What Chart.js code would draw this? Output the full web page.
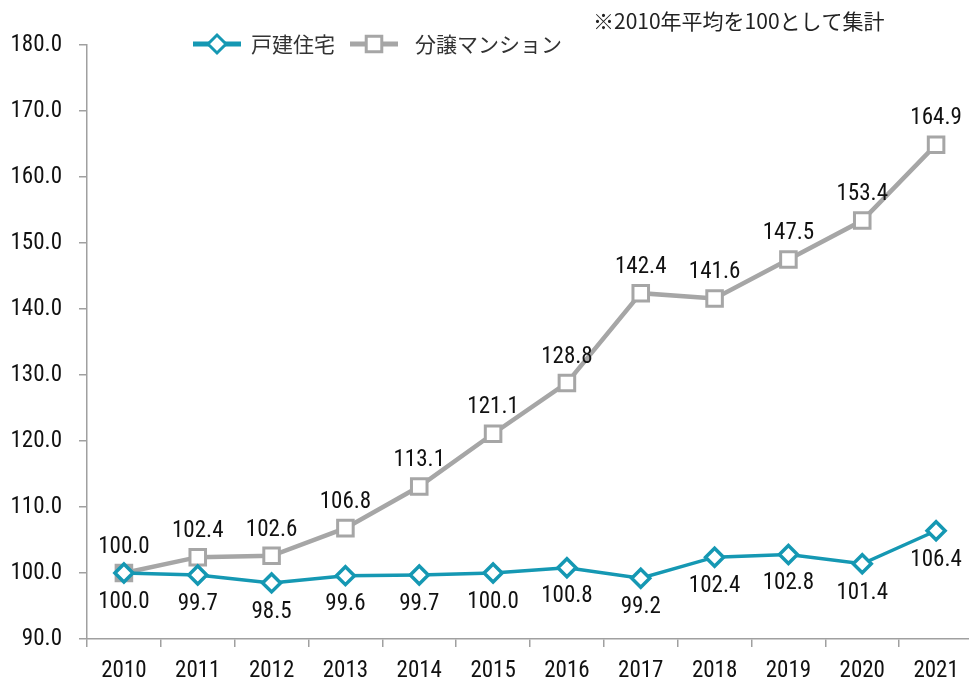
<!DOCTYPE html>
<html>
<head>
<meta charset="utf-8">
<script src="https://cdn.jsdelivr.net/npm/chart.js@4"></script>
<style>
  html, body { margin: 0; padding: 0; background: #fff; overflow: hidden; }
  #chart { display: block; }
</style>
</head>
<body>
<canvas id="chart" width="974" height="685"></canvas>
<script>
// chart values (index, 2010 average = 100)
const years = ["2010", "2011", "2012", "2013", "2014", "2015", "2016", "2017", "2018", "2019", "2020", "2021"];
const detachedHouse = [100.0, 99.7, 98.5, 99.6, 99.7, 100.0, 100.8, 99.2, 102.4, 102.8, 101.4, 106.4];
const condominium = [100.0, 102.4, 102.6, 106.8, 113.1, 121.1, 128.8, 142.4, 141.6, 147.5, 153.4, 164.9];
const seriesNames = ["戸建住宅", "分譲マンション"];
const noteText = "※2010年平均を100として集計";

const BLUE = "#1598b3";
const GRAY = "#a6a6a6";
const NUM_FONT = "'Roboto Condensed', 'DejaVu Sans Condensed', sans-serif";
const JP_FONT = "'Noto Sans CJK JP', sans-serif";

// value labels: gray above its points, blue below
const valueLabels = {
  id: "valueLabels",
  afterDatasetsDraw(chart) {
    const ctx = chart.ctx;
    ctx.save();
    ctx.font = "23px " + NUM_FONT;
    ctx.fillStyle = "#111";
    ctx.textAlign = "center";
    ctx.textBaseline = "middle";
    chart.data.datasets.forEach((ds, i) => {
      const meta = chart.getDatasetMeta(i);
      const below = ds.labelSide === "below";
      meta.data.forEach((pt, j) => {
        const y = below ? pt.y + 29 : pt.y - 26;
        ctx.fillText(ds.data[j].toFixed(1), pt.x, y);
      });
    });
    ctx.restore();
  },
};

// legend with line + marker, and the note at top right
const topTexts = {
  id: "topTexts",
  afterDraw(chart) {
    const ctx = chart.ctx;
    ctx.save();
    const y = 44;
    const items = [
      { x: 193, color: BLUE, style: "rectRot", r: 9, text: seriesNames[0], tx: 251 },
      { x: 350, color: GRAY, style: "rect", r: 11, text: seriesNames[1], tx: 415 },
    ];
    items.forEach((it) => {
      ctx.strokeStyle = it.color;
      ctx.lineWidth = 5;
      ctx.beginPath();
      ctx.moveTo(it.x, y);
      ctx.lineTo(it.x + 48, y);
      ctx.stroke();
      ctx.fillStyle = "#fff";
      ctx.lineWidth = 3;
      Chart.helpers.drawPoint(ctx, { pointStyle: it.style, radius: it.r, borderWidth: 3, rotation: 0 }, it.x + 24, y);
      ctx.fillStyle = "#333";
      ctx.font = "21px " + JP_FONT;
      ctx.textAlign = "left";
      ctx.textBaseline = "middle";
      ctx.fillText(it.text, it.tx, y);
    });
    ctx.fillStyle = "#222";
    ctx.font = "21px " + JP_FONT;
    ctx.textAlign = "left";
    ctx.textBaseline = "middle";
    ctx.fillText(noteText, 593, 21);
    ctx.restore();
  },
};

const canvas = document.getElementById("chart");
new Chart(canvas, {
  type: "line",
  data: {
    labels: years,
    datasets: [
      {
        label: seriesNames[0],
        data: detachedHouse,
        borderColor: BLUE,
        borderWidth: 3.5,
        pointStyle: "rectRot",
        pointRadius: 9,
        pointBorderWidth: 3.5,
        pointBorderColor: BLUE,
        pointBackgroundColor: "#fff",
        labelSide: "below",
      },
      {
        label: seriesNames[1],
        data: condominium,
        borderColor: GRAY,
        borderWidth: 4.5,
        pointStyle: "rect",
        pointRadius: 11,
        pointBorderWidth: 3,
        pointBorderColor: GRAY,
        pointBackgroundColor: condominium.map((v, i) => (i === 0 ? GRAY : "#fff")),
        labelSide: "above",
      },
    ],
  },
  options: {
    responsive: false,
    animation: false,
    // big markers would otherwise shrink the plot area
    layout: { autoPadding: false, padding: { top: 45, left: 0, right: 1, bottom: 0 } },
    plugins: { legend: { display: false }, tooltip: { enabled: false } },
    scales: {
      x: {
        offset: true,
        grid: { offset: true, drawOnChartArea: false, color: "#a0a0a0", lineWidth: 1.5, tickLength: 8 },
        border: { color: "#a0a0a0", width: 1.5 },
        ticks: { color: "#111", font: { family: NUM_FONT, size: 23 }, padding: 10, maxRotation: 0 },
        afterFit(scale) {
          scale.height = 46;
          scale.paddingLeft = 0;
          scale.paddingRight = 0;
        },
      },
      y: {
        min: 90,
        max: 180,
        grid: { drawOnChartArea: false, color: "#a0a0a0", lineWidth: 1.5, tickLength: 8 },
        border: { color: "#a0a0a0", width: 1.5 },
        ticks: {
          stepSize: 10,
          color: "#111",
          font: { family: NUM_FONT, size: 23 },
          padding: 17,
          callback: (v) => v.toFixed(1),
        },
        afterFit(scale) { scale.width = 87; },
      },
    },
  },
  plugins: [valueLabels, topTexts],
});
</script>
</body>
</html>
